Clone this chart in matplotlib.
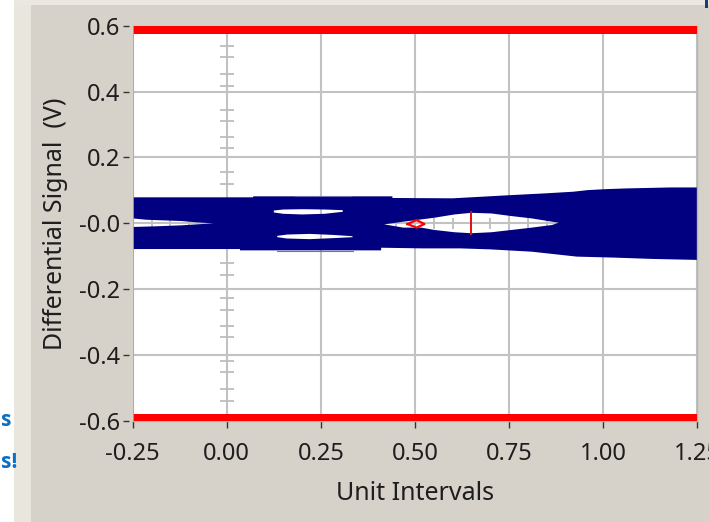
import numpy as np
import matplotlib
matplotlib.use("Agg")
import matplotlib.pyplot as plt
from matplotlib.path import Path
from matplotlib.patches import PathPatch, Rectangle

# ---------------- data ----------------
x_ticks = [-0.25, 0.0, 0.25, 0.5, 0.75, 1.0, 1.25]
x_tick_labels = ["-0.25", "0.00", "0.25", "0.50", "0.75", "1.00", "1.25"]
y_ticks = [0.6, 0.4, 0.2, 0.0, -0.2, -0.4, -0.6]
y_tick_labels = ["0.6", "0.4", "0.2", "-0.0", "-0.2", "-0.4", "-0.6"]

# eye-diagram outer envelope
band_top_x = [-0.25, 0.07, 0.07, 0.44, 0.44, 0.60, 0.68, 0.76, 0.845, 0.92, 0.96, 1.01, 1.06, 1.18, 1.25]
band_top_y = [0.079, 0.079, 0.082, 0.082, 0.077, 0.076, 0.081, 0.086, 0.091, 0.096, 0.101, 0.104, 0.106, 0.109, 0.109]
band_bot_x = [-0.25, 0.035, 0.035, 0.41, 0.41, 0.52, 0.62, 0.70, 0.81, 0.89, 0.93, 1.03, 1.13, 1.25]
band_bot_y = [-0.078, -0.078, -0.082, -0.082, -0.074, -0.076, -0.076, -0.079, -0.086, -0.096, -0.101, -0.104, -0.108, -0.111]

# open eye regions (top edge left->right, bottom edge left->right)
eye_left_top_x = [-0.25, -0.215, -0.12, -0.08, -0.035]
eye_left_top_y = [0.015, 0.011, 0.007, 0.003, 0.000]
eye_left_bot_x = [-0.25, -0.19, -0.12, -0.08, -0.035]
eye_left_bot_y = [-0.011, -0.009, -0.006, -0.003, 0.000]

eye_up_top_x = [0.125, 0.15, 0.20, 0.26, 0.308]
eye_up_top_y = [0.039, 0.042, 0.043, 0.042, 0.040]
eye_up_bot_x = [0.125, 0.15, 0.20, 0.26, 0.308]
eye_up_bot_y = [0.033, 0.029, 0.027, 0.029, 0.035]

eye_low_top_x = [0.134, 0.16, 0.22, 0.28, 0.334]
eye_low_top_y = [-0.038, -0.034, -0.032, -0.035, -0.039]
eye_low_bot_x = [0.134, 0.16, 0.22, 0.28, 0.334]
eye_low_bot_y = [-0.042, -0.046, -0.048, -0.045, -0.042]

eye_main_top_x = [0.418, 0.469, 0.517, 0.551, 0.605, 0.65, 0.703, 0.757, 0.81, 0.864, 0.882]
eye_main_top_y = [-0.003, 0.005, 0.012, 0.017, 0.027, 0.032, 0.030, 0.022, 0.015, 0.005, 0.002]
eye_main_bot_x = [0.418, 0.469, 0.517, 0.551, 0.605, 0.65, 0.703, 0.757, 0.81, 0.864, 0.882]
eye_main_bot_y = [-0.003, -0.013, -0.013, -0.020, -0.027, -0.030, -0.027, -0.020, -0.013, -0.005, 0.002]

# thin trace edges
edge_top_x = [0.18, 0.33]
edge_top_y = [0.0845, 0.0845]
edge_bot_x = [0.133, 0.336]
edge_bot_y = [-0.0845, -0.0845]

# mask limits and markers
mask_levels = [0.6, -0.6]
cursor_x = 0.65
cursor_y = [0.033, -0.033]
diamond_x = [0.480, 0.504, 0.525, 0.504, 0.480]
diamond_y = [-0.002, 0.010, -0.002, -0.013, -0.002]

# minor ticks on the cross axes
yaxis0_ticks = [0.539, 0.504, 0.452, 0.417, 0.344, 0.311, 0.263, 0.228, 0.157, 0.119,
                -0.119, -0.157, -0.228, -0.263, -0.311, -0.344, -0.417, -0.452, -0.504, -0.539]
xaxis0_ticks = [-0.20, -0.15, -0.10, -0.05, 0.05, 0.10, 0.15, 0.20, 0.30, 0.35, 0.40, 0.45,
                0.55, 0.60, 0.65, 0.70, 0.80, 0.85, 0.90, 0.95, 1.05, 1.10, 1.15, 1.20]

# ---------------- figure ----------------
BG = "#d6d2ca"
TXT = "#1e1e1e"
plt.rcParams["font.family"] = ["Noto Sans", "DejaVu Sans"]

fig = plt.figure(figsize=(7.09, 5.22), dpi=100, facecolor=BG)

# window decorations (left white strip, light border strips)
fig.patches.append(Rectangle((0, 0), 14 / 709, 1, transform=fig.transFigure,
                             facecolor="white", edgecolor="none", zorder=0))
fig.patches.append(Rectangle((14 / 709, 0), 17 / 709, 1, transform=fig.transFigure,
                             facecolor="#e9e6de", edgecolor="none", zorder=0))
fig.patches.append(Rectangle((14 / 709, 1 - 5 / 522), 1, 5 / 522, transform=fig.transFigure,
                             facecolor="#ebe8e1", edgecolor="none", zorder=0))
fig.patches.append(Rectangle((705 / 709, 1 - 8 / 522), 3 / 709, 8 / 522, transform=fig.transFigure,
                             facecolor="#1a3a7a", edgecolor="none", zorder=1))
fig.text(1 / 709, 1 - 420 / 522, "s", color="#0b6fc4", fontsize=15, fontweight="bold",
         family=["Open Sans", "DejaVu Sans"], ha="left", va="center")
fig.text(1 / 709, 1 - 462 / 522, "s!", color="#0b6fc4", fontsize=15, fontweight="bold",
         family=["Open Sans", "DejaVu Sans"], ha="left", va="center")

ax = fig.add_axes([0.18717, 0.19349, 0.79633, 0.75728])
ax.set_facecolor("white")
ax.set_xlim(-0.25, 1.25)
ax.set_ylim(-0.6, 0.6)

ax.set_axisbelow(True)
ax.grid(True, color="#c2c2c2", linewidth=1.5, zorder=0.5)

# cross-axis minor ticks
ax.hlines(yaxis0_ticks, -0.019, 0.019, color="#bdbdbd", linewidth=1.3, zorder=1)
ax.vlines(xaxis0_ticks, -0.016, 0.016, color="#bdbdbd", linewidth=1.3, zorder=1)


def ring(top_x, top_y, bot_x, bot_y, ccw):
    xs = list(top_x) + list(bot_x[::-1])
    ys = list(top_y) + list(bot_y[::-1])
    pts = np.column_stack([xs, ys])
    area = 0.5 * np.sum(pts[:, 0] * np.roll(pts[:, 1], -1) - np.roll(pts[:, 0], -1) * pts[:, 1])
    if (area > 0) != ccw:
        pts = pts[::-1]
    verts = list(map(tuple, pts)) + [tuple(pts[0])]
    codes = [Path.MOVETO] + [Path.LINETO] * (len(pts) - 1) + [Path.CLOSEPOLY]
    return verts, codes


verts, codes = ring(band_top_x, band_top_y, band_bot_x, band_bot_y, True)
for tx, ty, bx, by in [
    (eye_left_top_x, eye_left_top_y, eye_left_bot_x, eye_left_bot_y),
    (eye_up_top_x, eye_up_top_y, eye_up_bot_x, eye_up_bot_y),
    (eye_low_top_x, eye_low_top_y, eye_low_bot_x, eye_low_bot_y),
    (eye_main_top_x, eye_main_top_y, eye_main_bot_x, eye_main_bot_y),
]:
    v, c = ring(tx, ty, bx, by, False)
    verts += v
    codes += c

ax.add_patch(PathPatch(Path(verts, codes), facecolor="#000080", edgecolor="none", zorder=2))
ax.plot(edge_top_x, edge_top_y, color="#7070b8", linewidth=0.8, zorder=2.1)
ax.plot(edge_bot_x, edge_bot_y, color="#7070b8", linewidth=0.8, zorder=2.1)

# mask limit lines
for lv in mask_levels:
    ax.axhline(lv, color="#ff0000", linewidth=10.8, zorder=3)

ax.plot([cursor_x, cursor_x], cursor_y, color="#e01010", linewidth=1.4, zorder=3)
ax.plot(diamond_x, diamond_y, color="#ff0000", linewidth=1.6, zorder=3)

# axes frame
for s in ["top", "bottom", "right"]:
    ax.spines[s].set_color("#b4b4b4")
    ax.spines[s].set_linewidth(1.0)
ax.spines["left"].set_position(("outward", 3))
ax.spines["left"].set_color("none")
ax.axvline(-0.25, color="#a8a8a8", linewidth=1.2, zorder=4)

ax.set_xticks(x_ticks)
ax.set_xticklabels(x_tick_labels)
ax.set_yticks(y_ticks)
ax.set_yticklabels(y_tick_labels)
ax.tick_params(axis="y", length=4, width=1, color="#333333", pad=2,
               labelsize=17, labelcolor=TXT)
ax.tick_params(axis="x", length=5, width=1, color="#333333", pad=10,
               labelsize=17, labelcolor=TXT)

ax.set_xlabel("Unit Intervals", fontsize=18, color=TXT, labelpad=11)
ax.set_ylabel("Differential Signal  (V)", fontsize=18, color=TXT, labelpad=8)

fig.savefig("out.png", dpi=100, facecolor=BG)
